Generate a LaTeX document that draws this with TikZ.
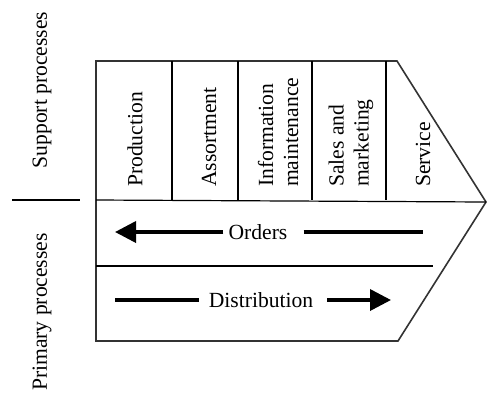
\documentclass[tikz,border=0pt]{standalone}
\usepackage{fontspec}
\setmainfont{Liberation Serif}
\usetikzlibrary{arrows.meta}

\tikzset{
  frame/.style={draw=black!80, line width=1.6pt, line join=miter},
  divider/.style={draw=black, line width=1.2pt},
  label/.style={font=\fontsize{21.6}{25}\selectfont, inner sep=0pt},
  collabel/.style={label, rotate=90, anchor=west, align=left},
  sidelabel/.style={label, rotate=90},
  flow/.style={draw=black, line width=3.6pt, -{Triangle[length=21pt,width=21pt]}},
  flowtail/.style={draw=black, line width=3.6pt}
}

\begin{document}
\begin{tikzpicture}[x=1pt, y=-1pt]
  \useasboundingbox (0,0) rectangle (487,392);

  % outline of the value chain chevron
  \coordinate (tl) at (96,61);
  \coordinate (tr) at (397,61);
  \coordinate (tip) at (486,202);
  \coordinate (br) at (398,341);
  \coordinate (bl) at (96,341);
  \draw[frame] (tl) -- (tr) -- (tip) -- (br) -- (bl) -- cycle;

  % support / primary separation and primary row split
  \coordinate (sepL) at (96,200);
  \draw[divider] (sepL) -- (tip);
  \coordinate (midL) at (96,266);
  \coordinate (midR) at (433,266);
  \draw[divider] (midL) -- (midR);

  % column dividers of the support activities
  \foreach \x [count=\i] in {172,238,312,386} {
    \coordinate (ct\i) at (\x,61);
    \coordinate (cb\i) at (\x,200);
    \draw[divider] (ct\i) -- (cb\i);
  }

  % support activity labels
  \node[collabel] (prod) at (135,187) {Production};
  \node[collabel] (assort) at (209,187) {Assortment};
  \node[collabel] (info) at (278,187) {Information\\maintenance};
  \node[collabel] (sales) at (351,187) {Sales and\\marketing};
  \node[collabel] (serv) at (423,187) {Service};

  % side captions
  \node[sidelabel] (support) at (42,90) {Support processes};
  \node[sidelabel, anchor=east] (primary) at (42,233) {Primary processes};
  \coordinate (capL) at (12,200);
  \coordinate (capR) at (80,200);
  \draw[divider] (capL) -- (capR);

  % primary flows
  \node[label] (orders) at (258,232) {Orders};
  \coordinate (oL) at (115,232);
  \coordinate (oR) at (423,232);
  \draw[flow] ([xshift=-5pt]orders.west) -- (oL);
  \draw[flowtail] ([xshift=16pt]orders.east) -- (oR);

  \node[label] (distr) at (261,300) {Distribution};
  \coordinate (dL) at (115,300);
  \coordinate (dR) at (391,300);
  \draw[flowtail] ([xshift=-10pt]distr.west) -- (dL);
  \draw[flow] ([xshift=14pt]distr.east) -- (dR);
\end{tikzpicture}
\end{document}
